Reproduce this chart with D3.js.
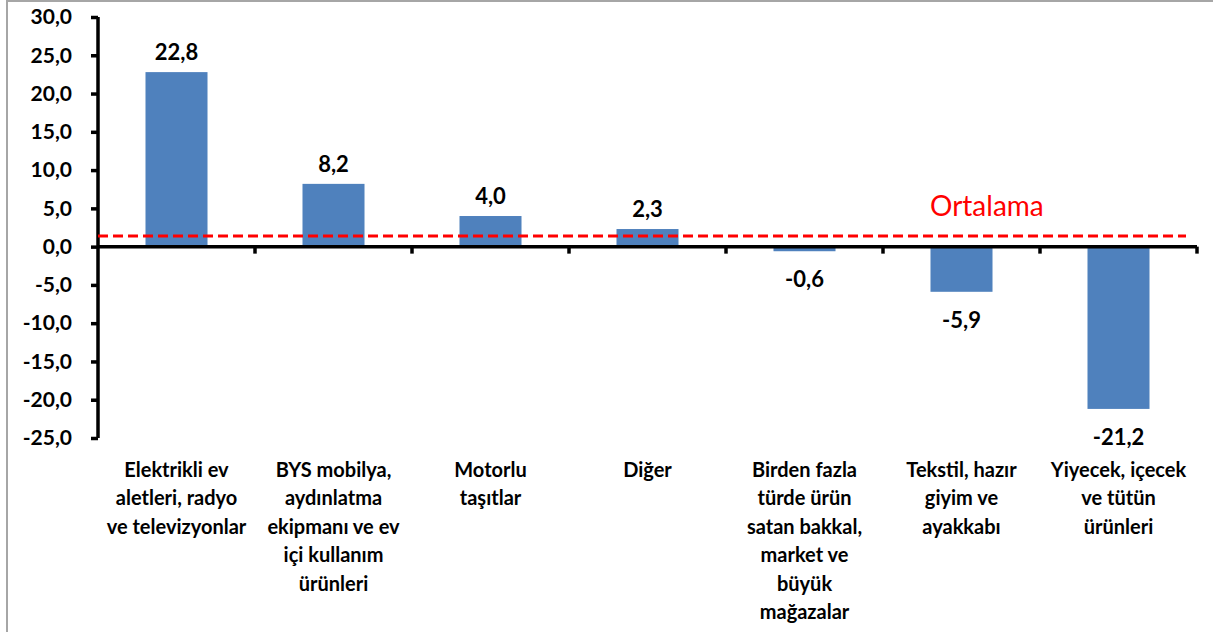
<!DOCTYPE html>
<html>
<head>
<meta charset="utf-8">
<script src="https://cdn.jsdelivr.net/npm/d3@7"></script>
<style>
  body { margin: 0; background: #fff; }
  text { font-family: Lato, "Open Sans", sans-serif; }
</style>
</head>
<body>
<div id="chart"></div>
<script>
var categories = [
  ["Elektrikli ev", "aletleri, radyo", "ve televizyonlar"],
  ["BYS mobilya,", "aydınlatma", "ekipmanı ve ev", "içi kullanım", "ürünleri"],
  ["Motorlu", "taşıtlar"],
  ["Diğer"],
  ["Birden fazla", "türde ürün", "satan bakkal,", "market ve", "büyük", "mağazalar"],
  ["Tekstil, hazır", "giyim ve", "ayakkabı"],
  ["Yiyecek, içecek", "ve tütün", "ürünleri"]
];
var values = [22.8, 8.2, 4.0, 2.3, -0.6, -5.9, -21.2];
var average = 1.4;
var averageLabel = "Ortalama";
var yTicks = [30, 25, 20, 15, 10, 5, 0, -5, -10, -15, -20, -25];

var svgWidth = 1213;
var svgHeight = 632;

var margin = { top: 17, right: 16, bottom: 194, left: 98 };
var width = svgWidth - margin.left - margin.right;
var height = svgHeight - margin.top - margin.bottom;

var fmt = function(v) { return d3.format(".1f")(v).replace(".", ",").replace("−", "-"); };

var svg = d3.select("#chart")
  .append("svg")
  .attr("width", svgWidth)
  .attr("height", svgHeight);

// outer frame
svg.append("rect")
  .attr("x", 7).attr("y", 1)
  .attr("width", svgWidth - 6).attr("height", svgHeight + 10)
  .attr("fill", "none")
  .attr("stroke", "#a6a6a6")
  .attr("stroke-width", 2);

var chartGroup = svg.append("g")
  .attr("transform", `translate(${margin.left}, ${margin.top})`);

var x = d3.scaleBand()
  .domain(d3.range(values.length))
  .range([0, width])
  .paddingInner(0.605)
  .paddingOuter(0.3025);

var xBand = d3.scaleBand()
  .domain(d3.range(values.length))
  .range([0, width]);

var y = d3.scaleLinear()
  .domain([-25, 30])
  .range([height, 0]);

// bars
chartGroup.selectAll("rect.bar")
  .data(values)
  .enter()
  .append("rect")
  .attr("class", "bar")
  .attr("x", (d, i) => x(i))
  .attr("y", d => y(Math.max(0, d)))
  .attr("width", x.bandwidth())
  .attr("height", d => Math.abs(y(d) - y(0)))
  .attr("fill", "#4f81bd");

// y axis
var leftAxis = d3.axisLeft(y)
  .tickValues(yTicks)
  .tickFormat(fmt)
  .tickSize(7)
  .tickPadding(4);

var yAxisG = chartGroup.append("g").call(leftAxis);
yAxisG.select(".domain").attr("stroke", "#000").attr("stroke-width", 3.5)
  .attr("d", `M0,${y(30)}V${y(-25)}`);
yAxisG.selectAll(".tick line").attr("stroke", "#000").attr("stroke-width", 3.5);
yAxisG.selectAll(".tick text")
  .attr("fill", "#000")
  .style("font-size", "21px")
  .style("font-weight", "bold")
  .attr("x", -26);

// x axis at zero with category boundary ticks
var xAxisG = chartGroup.append("g");
xAxisG.append("line")
  .attr("x1", 0).attr("x2", width)
  .attr("y1", y(0)).attr("y2", y(0))
  .attr("stroke", "#000").attr("stroke-width", 3.5);
xAxisG.selectAll("line.xtick")
  .data(d3.range(1, values.length + 1))
  .enter()
  .append("line")
  .attr("class", "xtick")
  .attr("x1", d => d === values.length ? width : xBand(d))
  .attr("x2", d => d === values.length ? width : xBand(d))
  .attr("y1", y(0))
  .attr("y2", y(0) + 7)
  .attr("stroke", "#000").attr("stroke-width", 3.5);

// average line
chartGroup.append("line")
  .attr("x1", 0).attr("x2", width - 11)
  .attr("y1", y(average)).attr("y2", y(average))
  .attr("stroke", "#ff0000")
  .attr("stroke-width", 3)
  .attr("stroke-dasharray", "10,5");

chartGroup.append("text")
  .attr("x", xBand(5) + 47)
  .attr("y", y(average) - 20)
  .attr("fill", "#ff0000")
  .style("font-size", "28px")
  .text(averageLabel);

// value labels
chartGroup.selectAll("text.val")
  .data(values)
  .enter()
  .append("text")
  .attr("class", "val")
  .attr("x", (d, i) => x(i) + x.bandwidth() / 2)
  .attr("y", d => d >= 0 ? y(d) - 12 : y(d) + 36)
  .attr("text-anchor", "middle")
  .style("font-size", "22px")
  .style("font-weight", "bold")
  .text(d => fmt(d));

// category labels
var catG = chartGroup.selectAll("g.cat")
  .data(categories)
  .enter()
  .append("g")
  .attr("class", "cat")
  .attr("transform", (d, i) => `translate(${xBand(i) + xBand.bandwidth() / 2}, ${height + 39})`);

catG.selectAll("text")
  .data(d => d)
  .enter()
  .append("text")
  .attr("x", 0)
  .attr("y", (d, j) => j * 28.4)
  .attr("text-anchor", "middle")
  .style("font-size", "20px")
  .style("font-weight", "bold")
  .text(d => d);
</script>
</body>
</html>
